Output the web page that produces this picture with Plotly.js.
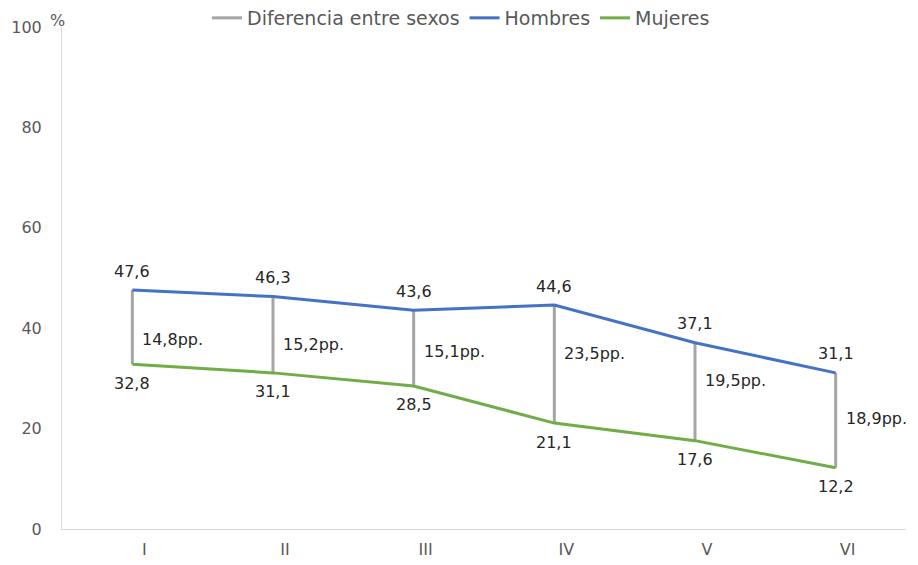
<!DOCTYPE html>
<html>
<head>
<meta charset="utf-8">
<script src="https://cdn.plot.ly/plotly-3.0.1.min.js"></script>
<style>html,body{margin:0;padding:0;background:#fff;}#chart{width:918px;height:565px;}</style>
</head>
<body>
<div id="chart"></div>
<script>
var categories = ["I", "II", "III", "IV", "V", "VI"];
var hombres = [47.6, 46.3, 43.6, 44.6, 37.1, 31.1];
var mujeres = [32.8, 31.1, 28.5, 21.1, 17.6, 12.2];
var diferencias = [14.8, 15.2, 15.1, 23.5, 19.5, 18.9];
var yTicks = [0, 20, 40, 60, 80, 100];

var FONT = "DejaVu Sans, sans-serif";
var LABEL = "#262626";
var AXIS_TXT = "#595959";
var fmt = function (v) { return v.toFixed(1).replace(".", ","); };

// Gray gap segments built from the two series
var gx = [], gy = [];
categories.forEach(function (c, i) {
  gx.push(c, c, null);
  gy.push(hombres[i], mujeres[i], null);
});

var traces = [
  {
    x: gx, y: gy, type: "scatter", mode: "lines", name: "Diferencia entre sexos",
    line: { color: "#a5a5a5", width: 3 }, hoverinfo: "skip", connectgaps: false
  },
  {
    x: categories, y: hombres, type: "scatter", mode: "lines", name: "Hombres",
    line: { color: "#4472c4", width: 3 }
  },
  {
    x: categories, y: mujeres, type: "scatter", mode: "lines", name: "Mujeres",
    line: { color: "#70ad47", width: 3 }
  }
];

var annotations = [];
// value labels (styling offsets only)
categories.forEach(function (c, i) {
  annotations.push({
    x: c, y: hombres[i], xref: "x", yref: "y", text: fmt(hombres[i]),
    showarrow: false, xanchor: "center", yanchor: "middle", yshift: 19,
    font: { family: FONT, size: 16, color: LABEL }
  });
  annotations.push({
    x: c, y: mujeres[i], xref: "x", yref: "y", text: fmt(mujeres[i]),
    showarrow: false, xanchor: "center", yanchor: "middle", yshift: -19,
    font: { family: FONT, size: 16, color: LABEL }
  });
});
// difference labels next to the gray segments
var gapShift = [-12, -10, -3, 11, 11, 2];
categories.forEach(function (c, i) {
  annotations.push({
    x: c, y: (hombres[i] + mujeres[i]) / 2, xref: "x", yref: "y",
    text: fmt(diferencias[i]) + "pp.", showarrow: false,
    xanchor: "left", yanchor: "middle", xshift: 8, yshift: gapShift[i],
    font: { family: FONT, size: 16, color: LABEL }
  });
});
// unit label
annotations.push({
  x: -5 / 844, y: 1 + 7 / 502, xref: "paper", yref: "paper",
  text: "%", showarrow: false, xanchor: "center", yanchor: "middle",
  font: { family: FONT, size: 16, color: AXIS_TXT }
});

var layout = {
  width: 918, height: 565,
  margin: { l: 62, r: 12, t: 27, b: 36, autoexpand: false },
  paper_bgcolor: "#ffffff", plot_bgcolor: "#ffffff",
  font: { family: FONT, size: 16, color: AXIS_TXT },
  showlegend: true,
  legend: {
    orientation: "h", x: (461 - 62) / 844, xanchor: "center", y: 1 + 9 / 502, yanchor: "middle",
    font: { family: FONT, size: 19, color: AXIS_TXT },
    itemwidth: 30, tracegroupgap: 0, bgcolor: "rgba(0,0,0,0)"
  },
  xaxis: {
    type: "category", categoryorder: "array", categoryarray: categories,
    range: [-0.5, 5.5], showgrid: false, zeroline: false,
    showline: true, linecolor: "#d9d9d9", linewidth: 1, ticks: "",
    ticklabelshift: 12, ticklabelstandoff: 6,
    tickfont: { family: FONT, size: 16, color: AXIS_TXT }
  },
  yaxis: {
    range: [0, 100], tickvals: yTicks, ticktext: yTicks.map(String),
    showgrid: false, zeroline: false, showline: true, linecolor: "#d9d9d9", linewidth: 1,
    ticks: "", ticklabelstandoff: 16, tickfont: { family: FONT, size: 16, color: AXIS_TXT }
  },
  annotations: annotations
};

Plotly.newPlot("chart", traces, layout, { displayModeBar: false, staticPlot: true });
</script>
</body>
</html>
